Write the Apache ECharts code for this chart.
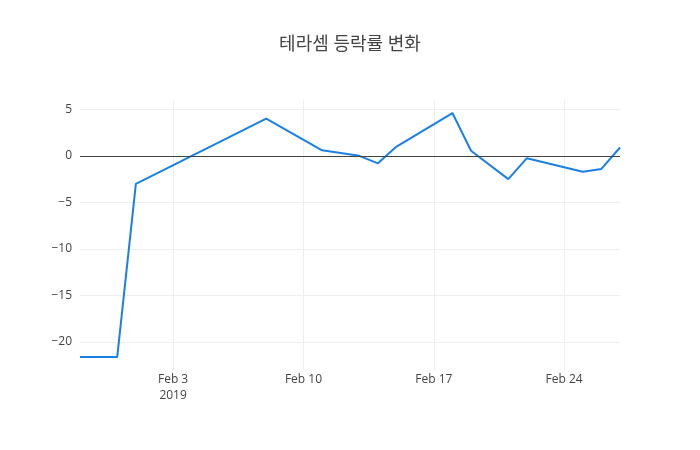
<!DOCTYPE html>
<html>
<head>
<meta charset="utf-8">
<script src="https://cdn.jsdelivr.net/npm/echarts@6/dist/echarts.min.js"></script>
<style>
html, body { margin: 0; padding: 0; background: #fff; }
#main { width: 700px; height: 450px; }
</style>
</head>
<body>
<div id="main"></div>
<script>
// 날짜별 등락률 (%)
var dates = ['2019-01-29', '2019-01-31', '2019-02-01', '2019-02-08', '2019-02-11',
             '2019-02-13', '2019-02-14', '2019-02-15', '2019-02-18', '2019-02-19',
             '2019-02-21', '2019-02-22', '2019-02-25', '2019-02-26', '2019-02-27'];
var changes = [-21.6, -21.6, -3.0, 4.0, 0.6, 0.0, -0.8, 1.0, 4.6, 0.55,
               -2.5, -0.25, -1.7, -1.4, 0.9];
var xTicks = ['2019-02-03', '2019-02-10', '2019-02-17', '2019-02-24'];
var yTicks = [-20, -15, -10, -5, 0, 5];

var MONTHS = ['Jan', 'Feb', 'Mar', 'Apr', 'May', 'Jun', 'Jul', 'Aug', 'Sep', 'Oct', 'Nov', 'Dec'];

function toTime(s) {
    var p = s.split('-');
    return Date.UTC(+p[0], +p[1] - 1, +p[2]);
}

var myChart = echarts.init(document.getElementById('main'));
var font = '"Open Sans", "Noto Sans CJK KR", sans-serif';
var xTickTimes = xTicks.map(toTime);

var option = {
    backgroundColor: '#fff',
    animation: false,
    textStyle: { fontFamily: font },
    title: {
        text: '테라셈 등락률 변화',
        left: 'center',
        top: 31,
        textStyle: {
            color: '#444',
            fontWeight: 'normal',
            fontSize: 18,
            fontFamily: font
        }
    },
    grid: { left: 80, right: 80, top: 100, bottom: 80 },
    xAxis: {
        type: 'value',
        min: toTime(dates[0]),
        max: toTime(dates[dates.length - 1]),
        axisLine: { show: false },
        axisTick: { show: false, customValues: xTickTimes },
        axisLabel: {
            customValues: xTickTimes,
            color: '#444',
            fontSize: 12,
            margin: 2,
            lineHeight: 16,
            formatter: function (v) {
                var d = new Date(v);
                var s = MONTHS[d.getUTCMonth()] + ' ' + d.getUTCDate();
                return v === xTickTimes[0] ? s + '\n' + d.getUTCFullYear() : s;
            }
        },
        splitLine: { show: true, lineStyle: { color: '#eee', width: 1 } }
    },
    yAxis: {
        type: 'value',
        min: -23,
        max: 6,
        axisLine: { show: false },
        axisTick: { show: false, customValues: yTicks },
        axisLabel: {
            customValues: yTicks,
            color: '#444',
            fontSize: 12,
            margin: 8,
            formatter: function (v) { return v < 0 ? '\u2212' + Math.abs(v) : String(v); }
        },
        splitLine: { show: true, lineStyle: { color: '#eee', width: 1 } }
    },
    series: [{
        name: '등락률',
        type: 'line',
        data: dates.map(function (d, i) { return [toTime(d), changes[i]]; }),
        showSymbol: false,
        lineStyle: { color: '#1a80e8', width: 2 },
        itemStyle: { color: '#1a80e8' },
        markLine: {
            silent: true,
            symbol: 'none',
            label: { show: false },
            lineStyle: { color: '#444', width: 1, type: 'solid' },
            data: [{ yAxis: 0 }]
        },
        z: 3
    }]
};

myChart.setOption(option);
</script>
</body>
</html>
